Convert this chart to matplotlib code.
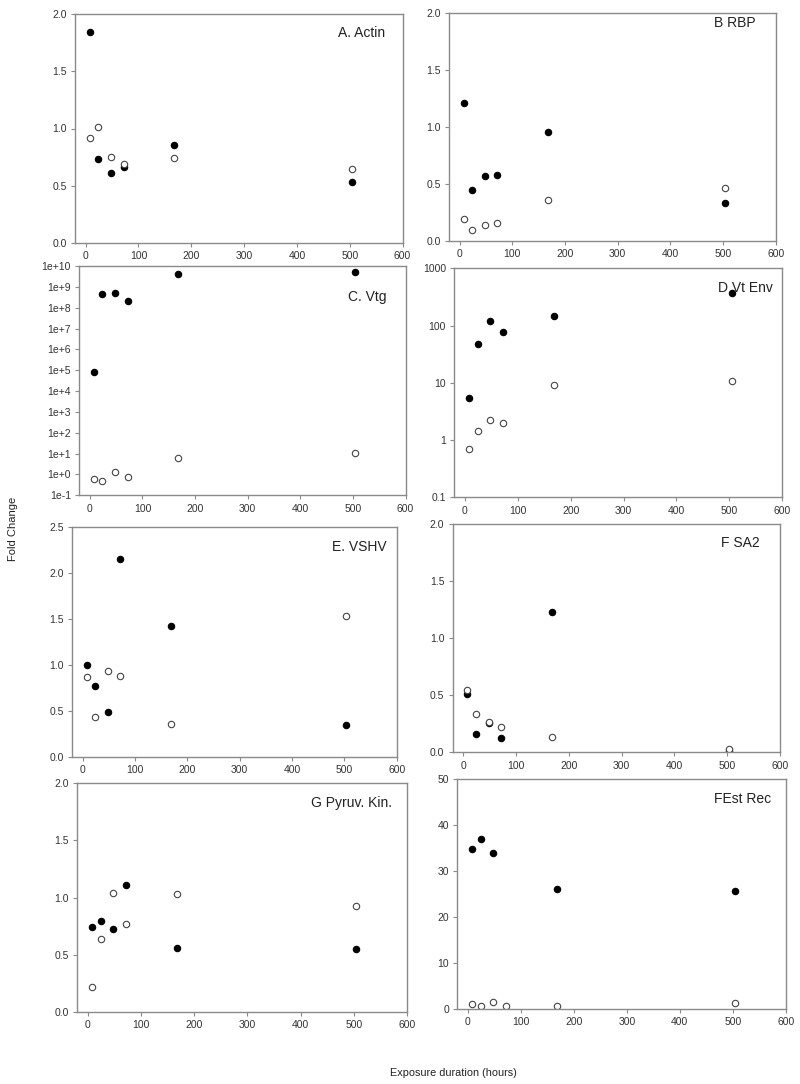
import numpy as np
import matplotlib
matplotlib.use("Agg")
import matplotlib.pyplot as plt
from matplotlib.ticker import FixedLocator, FixedFormatter, NullLocator

plt.rcParams['font.family'] = ['Liberation Sans', 'DejaVu Sans']

# exposure times (hours)
hours = [8, 24, 48, 72, 168, 504]

# fold change, filled circles / open circles for each gene
actin_filled = [1.84, 0.73, 0.61, 0.66, 0.86, 0.53]
actin_open = [0.92, 1.01, 0.755, 0.69, 0.74, 0.645]

rbp_filled = [1.21, 0.447, 0.57, 0.575, 0.955, 0.333]
rbp_open = [0.193, 0.096, 0.143, 0.161, 0.359, 0.464]

vtg_filled = [8.3e4, 4.3e8, 4.8e8, 2.1e8, 4.1e9, 4.9e9]
vtg_open = [0.59, 0.49, 1.26, 0.79, 5.97, 10.7]

vtenv_filled = [5.36, 48.3, 118.6, 77.2, 145, 371]
vtenv_open = [0.69, 1.44, 2.21, 1.99, 9.16, 10.8]

vshv_filled = [1.003, 0.774, 0.491, 2.151, 1.428, 0.345]
vshv_open = [0.868, 0.429, 0.938, 0.883, 0.36, 1.53]

sa2_filled = [0.508, 0.164, 0.26, 0.123, 1.226, 0.012]
sa2_open = [0.549, 0.336, 0.263, 0.219, 0.137, 0.032]

pk_filled = [0.742, 0.791, 0.724, 1.109, 0.555, 0.546]
pk_open = [0.216, 0.634, 1.039, 0.765, 1.034, 0.926]

estrec_filled = [34.7, 37.0, 33.8, np.nan, 26.0, 25.6]
estrec_open = [0.94, 0.65, 1.45, 0.58, 0.58, 1.30]

W, H = 800, 1084
fig = plt.figure(figsize=(W / 100, H / 100), dpi=100)


def make_ax(left, top, right, bottom):
    return fig.add_axes([left / W, 1 - bottom / H, (right - left) / W, (bottom - top) / H])


def style(ax, label, lx, ly):
    ax.set_xlim(-20, 600)
    ax.set_xticks([0, 100, 200, 300, 400, 500, 600])
    for s in ax.spines.values():
        s.set_color('#8a8a8a')
        s.set_linewidth(1.0)
    ax.tick_params(direction='out', length=3, width=0.8, color='#8a8a8a',
                   labelsize=7.5, labelcolor='#333333', pad=3)
    ax.text(lx, ly, label, transform=ax.transAxes, ha='right', va='center',
            fontsize=10, color='#222222')


def dots(ax, filled, opened):
    ax.plot(hours, filled, 'o', ms=4.6, mfc='black', mec='black', mew=0.8, ls='none')
    ax.plot(hours, opened, 'o', ms=4.6, mfc='white', mec='#444444', mew=0.8, ls='none')


# A. Actin
ax = make_ax(75, 14, 402.6, 243)
dots(ax, actin_filled, actin_open)
ax.set_ylim(0, 2.0)
ax.set_yticks([0, 0.5, 1.0, 1.5, 2.0])
ax.set_yticklabels(['0.0', '0.5', '1.0', '1.5', '2.0'])
style(ax, 'A. Actin', 0.948, 0.917)

# B RBP
ax = make_ax(449, 12.7, 775.7, 241)
dots(ax, rbp_filled, rbp_open)
ax.set_ylim(0, 2.0)
ax.set_yticks([0, 0.5, 1.0, 1.5, 2.0])
ax.set_yticklabels(['0.0', '0.5', '1.0', '1.5', '2.0'])
style(ax, 'B RBP', 0.939, 0.953)

# C. Vtg (log)
ax = make_ax(79.3, 266, 405.5, 495.3)
dots(ax, vtg_filled, vtg_open)
ax.set_yscale('log')
ax.set_ylim(1e-1, 1e10)
exps = list(range(-1, 11))
ax.yaxis.set_major_locator(FixedLocator([10.0 ** e for e in exps]))
ax.yaxis.set_major_formatter(FixedFormatter(['1e%+d' % e if e != 0 else '1e+0' for e in exps]))
ax.yaxis.set_minor_locator(NullLocator())
style(ax, 'C. Vtg', 0.942, 0.863)

# D Vt Env (log)
ax = make_ax(454.3, 268.3, 782.3, 497.3)
dots(ax, vtenv_filled, vtenv_open)
ax.set_yscale('log')
ax.set_ylim(0.1, 1000)
ax.yaxis.set_major_locator(FixedLocator([0.1, 1, 10, 100, 1000]))
ax.yaxis.set_major_formatter(FixedFormatter(['0.1', '1', '10', '100', '1000']))
ax.yaxis.set_minor_locator(NullLocator())
style(ax, 'D Vt Env', 0.970, 0.915)

# E. VSHV
ax = make_ax(72.3, 527.3, 396.7, 756.7)
dots(ax, vshv_filled, vshv_open)
ax.set_ylim(0, 2.5)
ax.set_yticks([0, 0.5, 1.0, 1.5, 2.0, 2.5])
ax.set_yticklabels(['0.0', '0.5', '1.0', '1.5', '2.0', '2.5'])
style(ax, 'E. VSHV', 0.969, 0.913)

# F SA2
ax = make_ax(452.7, 524, 780, 752.3)
dots(ax, sa2_filled, sa2_open)
ax.set_ylim(0, 2.0)
ax.set_yticks([0, 0.5, 1.0, 1.5, 2.0])
ax.set_yticklabels(['0.0', '0.5', '1.0', '1.5', '2.0'])
style(ax, 'F SA2', 0.939, 0.915)

# G Pyruv. Kin.
ax = make_ax(77.3, 783.3, 407, 1011.7)
dots(ax, pk_filled, pk_open)
ax.set_ylim(0, 2.0)
ax.set_yticks([0, 0.5, 1.0, 1.5, 2.0])
ax.set_yticklabels(['0.0', '0.5', '1.0', '1.5', '2.0'])
style(ax, 'G Pyruv. Kin.', 0.955, 0.915)

# FEst Rec
ax = make_ax(457.3, 778.7, 785.7, 1008.7)
dots(ax, estrec_filled, estrec_open)
ax.set_ylim(0, 50)
ax.set_yticks([0, 10, 20, 30, 40, 50])
style(ax, 'FEst Rec', 0.955, 0.912)

fig.text(12.5 / W, 1 - 529 / H, 'Fold Change', rotation=90, ha='center', va='center',
         fontsize=8, color='#222222')
fig.text(453 / W, 1 - 1073 / H, 'Exposure duration (hours)', ha='center', va='center',
         fontsize=7.8, color='#222222')

fig.savefig('out.png', dpi=100)
